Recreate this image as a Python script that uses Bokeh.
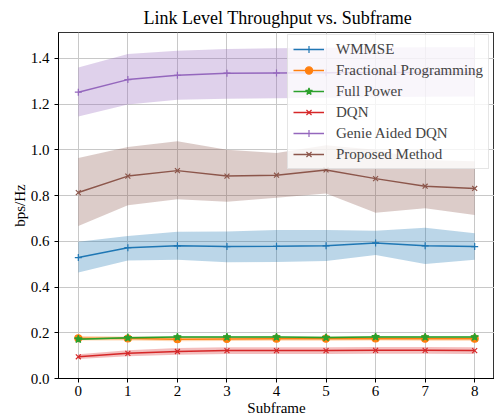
from bokeh.plotting import figure
from bokeh.embed import file_html
from bokeh.resources import INLINE
from bokeh.models import FixedTicker, PrintfTickFormatter, Range1d, Legend, LegendItem

subframes = [0, 1, 2, 3, 4, 5, 6, 7, 8]

wmmse = [0.529, 0.572, 0.580, 0.577, 0.578, 0.580, 0.593, 0.580, 0.577]
wmmse_lo = [0.463, 0.516, 0.519, 0.508, 0.509, 0.514, 0.540, 0.501, 0.519]
wmmse_hi = [0.598, 0.623, 0.642, 0.643, 0.649, 0.649, 0.646, 0.659, 0.635]

frac = [0.176, 0.175, 0.172, 0.173, 0.174, 0.174, 0.175, 0.174, 0.174]
frac_lo = [0.166, 0.166, 0.163, 0.164, 0.165, 0.165, 0.166, 0.165, 0.165]
frac_hi = [0.186, 0.184, 0.181, 0.182, 0.183, 0.183, 0.184, 0.183, 0.183]

full = [0.172, 0.178, 0.181, 0.181, 0.181, 0.179, 0.182, 0.181, 0.181]
full_lo = [0.168, 0.174, 0.177, 0.177, 0.177, 0.175, 0.178, 0.177, 0.177]
full_hi = [0.176, 0.182, 0.185, 0.185, 0.185, 0.183, 0.186, 0.185, 0.185]

dqn = [0.095, 0.110, 0.118, 0.122, 0.122, 0.122, 0.123, 0.123, 0.122]
dqn_lo = [0.085, 0.097, 0.104, 0.107, 0.107, 0.107, 0.108, 0.108, 0.107]
dqn_hi = [0.106, 0.124, 0.133, 0.137, 0.137, 0.137, 0.138, 0.138, 0.137]

genie = [1.252, 1.307, 1.326, 1.335, 1.336, 1.337, 1.338, 1.338, 1.338]
genie_lo = [1.146, 1.198, 1.219, 1.223, 1.225, 1.228, 1.230, 1.232, 1.233]
genie_hi = [1.360, 1.419, 1.433, 1.441, 1.444, 1.446, 1.447, 1.448, 1.448]

proposed = [0.813, 0.885, 0.909, 0.885, 0.889, 0.912, 0.874, 0.841, 0.831]
proposed_lo = [0.667, 0.758, 0.784, 0.773, 0.790, 0.809, 0.725, 0.744, 0.715]
proposed_hi = [0.964, 1.012, 1.037, 1.000, 0.986, 1.020, 1.000, 0.955, 0.950]

y_ticks = [0.0, 0.2, 0.4, 0.6, 0.8, 1.0, 1.2, 1.4]

series = [
    ("WMMSE", wmmse, wmmse_lo, wmmse_hi, "#1f77b4", "cross"),
    ("Fractional Programming", frac, frac_lo, frac_hi, "#ff7f0e", "circle"),
    ("Full Power", full, full_lo, full_hi, "#2ca02c", "star"),
    ("DQN", dqn, dqn_lo, dqn_hi, "#d62728", "x"),
    ("Genie Aided DQN", genie, genie_lo, genie_hi, "#9467bd", "cross"),
    ("Proposed Method", proposed, proposed_lo, proposed_hi, "#8c564b", "x"),
]

FONT = "Liberation Serif"

p = figure(width=494, height=418, output_backend="svg", toolbar_location=None,
           x_range=Range1d(-0.4, 8.4), y_range=Range1d(0, 1.513),
           min_border_left=58, min_border_right=0, min_border_top=32, min_border_bottom=39)

p.title.text = "Link Level Throughput vs. Subframe"
p.title.text_font = FONT
p.title.text_font_size = "18px"
p.title.text_font_style = "normal"
p.title.align = "left"
p.title.offset = 85
p.title.text_color = "black"

items = []
for name, ys, lo, hi, color, marker in series:
    p.varea(x=subframes, y1=lo, y2=hi, fill_color=color, fill_alpha=0.3)
    r1 = p.line(subframes, ys, line_color=color, line_width=1.5)
    sz = 7
    if marker == "star":
        sz = 8
    r2 = p.scatter(subframes, ys, marker=marker, size=sz, line_color=color,
                   fill_color=color, line_width=1.2)
    items.append(LegendItem(label=name, renderers=[r1, r2]))

legend = Legend(items=items, location=(229, 209))
legend.label_text_font = FONT
legend.label_text_font_size = "15px"
legend.glyph_width = 31
legend.glyph_height = 18
legend.label_height = 18
legend.spacing = 3
legend.padding = 5
legend.label_standoff = 12
legend.background_fill_color = "white"
legend.background_fill_alpha = 0.8
legend.border_line_color = "#cccccc"
legend.border_line_width = 1
p.add_layout(legend)

p.xaxis.ticker = FixedTicker(ticks=subframes)
p.yaxis.ticker = FixedTicker(ticks=y_ticks)
p.yaxis.formatter = PrintfTickFormatter(format="%.1f")

for ax in (p.xaxis, p.yaxis):
    ax.major_label_text_font = FONT
    ax.major_label_text_font_size = "15px"
    ax.major_label_text_color = "black"
    ax.axis_label_text_font = FONT
    ax.axis_label_text_font_size = "15px"
    ax.axis_label_text_font_style = "normal"
    ax.axis_label_text_color = "black"
    ax.major_tick_in = 0
    ax.major_tick_out = 4
    ax.minor_tick_line_color = None
    ax.major_tick_line_color = "black"
    ax.axis_line_color = "black"

p.xaxis.axis_label = "Subframe"
p.yaxis.axis_label = "bps/Hz"
p.xaxis.major_label_standoff = 3
p.xaxis.axis_label_standoff = 1
p.yaxis.major_label_standoff = 5
p.yaxis.axis_label_standoff = 0

p.grid.grid_line_color = "#c8c8c8"
p.grid.grid_line_width = 1
p.outline_line_color = "black"
p.outline_line_alpha = 0.8

open("out.html", "w").write(file_html(p, INLINE))
